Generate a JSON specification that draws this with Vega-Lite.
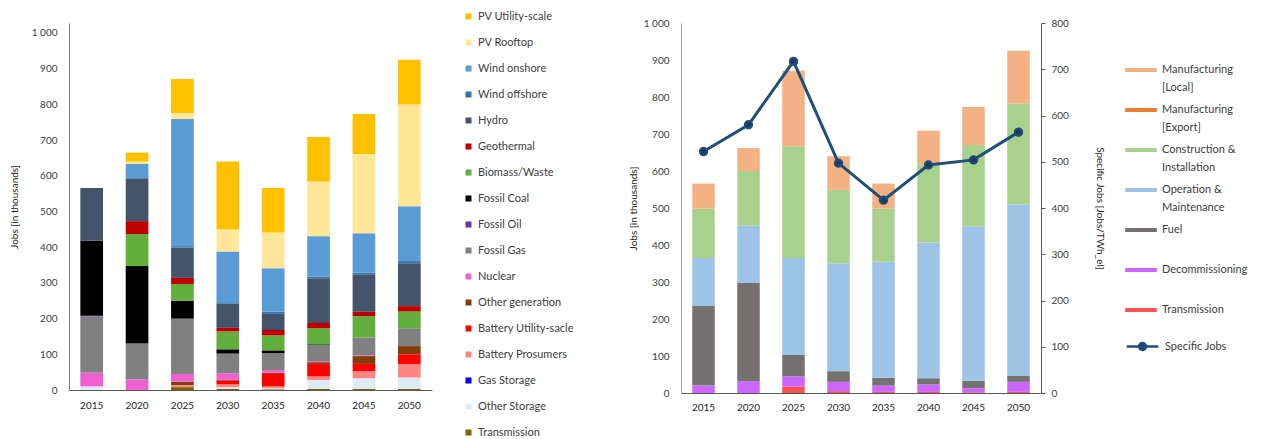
{
  "$schema": "https://vega.github.io/schema/vega-lite/v6.json",
  "background": "white",
  "padding": {"left": 9, "top": 10, "right": 0, "bottom": 0},
  "bounds": "flush",
  "spacing": 249,
  "config": {
    "font": "Lato",
    "view": {"stroke": null},
    "axis": {"labelFont": "Lato", "labelFontSize": 10, "labelColor": "#404040", "titleFont": "Lato", "titleFontSize": 10, "titleFontWeight": "normal", "titleColor": "#262626", "grid": false, "ticks": false, "domainColor": "#7f7f7f"},
    "legend": {"labelFont": "Lato", "labelFontSize": 11, "labelColor": "#404040", "padding": 0, "title": null}
  },
  "datasets": {
    "techOrder": [
      {"tech": "PV Utility-scale", "rank": 1},
      {"tech": "PV Rooftop", "rank": 2},
      {"tech": "Wind onshore", "rank": 3},
      {"tech": "Wind offshore", "rank": 4},
      {"tech": "Hydro", "rank": 5},
      {"tech": "Geothermal", "rank": 6},
      {"tech": "Biomass/Waste", "rank": 7},
      {"tech": "Fossil Coal", "rank": 8},
      {"tech": "Fossil Oil", "rank": 9},
      {"tech": "Fossil Gas", "rank": 10},
      {"tech": "Nuclear", "rank": 11},
      {"tech": "Other generation", "rank": 12},
      {"tech": "Battery Utility-sacle", "rank": 13},
      {"tech": "Battery Prosumers", "rank": 14},
      {"tech": "Gas Storage", "rank": 15},
      {"tech": "Other Storage", "rank": 16},
      {"tech": "Transmission", "rank": 17}
    ],
    "actOrder": [
      {"act": "Manufacturing [Local]", "rank": 1},
      {"act": "Manufacturing [Export]", "rank": 2},
      {"act": "Construction & Installation", "rank": 3},
      {"act": "Operation & Maintenance", "rank": 4},
      {"act": "Fuel", "rank": 5},
      {"act": "Decommissioning", "rank": 6},
      {"act": "Transmission", "rank": 7}
    ],
    "tech": [
      {"year": "2015", "tech": "Other Storage", "jobs": 10},
      {"year": "2015", "tech": "Nuclear", "jobs": 38},
      {"year": "2015", "tech": "Fossil Gas", "jobs": 158},
      {"year": "2015", "tech": "Fossil Oil", "jobs": 2},
      {"year": "2015", "tech": "Fossil Coal", "jobs": 210},
      {"year": "2015", "tech": "Hydro", "jobs": 148},
      {"year": "2020", "tech": "Nuclear", "jobs": 30},
      {"year": "2020", "tech": "Fossil Gas", "jobs": 100},
      {"year": "2020", "tech": "Fossil Coal", "jobs": 217},
      {"year": "2020", "tech": "Biomass/Waste", "jobs": 90},
      {"year": "2020", "tech": "Geothermal", "jobs": 36},
      {"year": "2020", "tech": "Hydro", "jobs": 120},
      {"year": "2020", "tech": "Wind onshore", "jobs": 40},
      {"year": "2020", "tech": "PV Rooftop", "jobs": 7},
      {"year": "2020", "tech": "PV Utility-scale", "jobs": 25},
      {"year": "2025", "tech": "Transmission", "jobs": 8},
      {"year": "2025", "tech": "Other generation", "jobs": 10},
      {"year": "2025", "tech": "Battery Prosumers", "jobs": 5},
      {"year": "2025", "tech": "Nuclear", "jobs": 22},
      {"year": "2025", "tech": "Fossil Gas", "jobs": 155},
      {"year": "2025", "tech": "Fossil Coal", "jobs": 50},
      {"year": "2025", "tech": "Biomass/Waste", "jobs": 47},
      {"year": "2025", "tech": "Geothermal", "jobs": 17},
      {"year": "2025", "tech": "Hydro", "jobs": 85},
      {"year": "2025", "tech": "Wind offshore", "jobs": 4},
      {"year": "2025", "tech": "Wind onshore", "jobs": 356},
      {"year": "2025", "tech": "PV Rooftop", "jobs": 17},
      {"year": "2025", "tech": "PV Utility-scale", "jobs": 95},
      {"year": "2030", "tech": "Transmission", "jobs": 3},
      {"year": "2030", "tech": "Other Storage", "jobs": 5},
      {"year": "2030", "tech": "Battery Prosumers", "jobs": 8},
      {"year": "2030", "tech": "Battery Utility-sacle", "jobs": 10},
      {"year": "2030", "tech": "Other generation", "jobs": 3},
      {"year": "2030", "tech": "Nuclear", "jobs": 18},
      {"year": "2030", "tech": "Fossil Gas", "jobs": 55},
      {"year": "2030", "tech": "Fossil Coal", "jobs": 12},
      {"year": "2030", "tech": "Biomass/Waste", "jobs": 50},
      {"year": "2030", "tech": "Geothermal", "jobs": 10},
      {"year": "2030", "tech": "Hydro", "jobs": 68},
      {"year": "2030", "tech": "Wind offshore", "jobs": 4},
      {"year": "2030", "tech": "Wind onshore", "jobs": 142},
      {"year": "2030", "tech": "PV Rooftop", "jobs": 62},
      {"year": "2030", "tech": "PV Utility-scale", "jobs": 190},
      {"year": "2035", "tech": "Transmission", "jobs": 2},
      {"year": "2035", "tech": "Other Storage", "jobs": 3},
      {"year": "2035", "tech": "Battery Prosumers", "jobs": 5},
      {"year": "2035", "tech": "Battery Utility-sacle", "jobs": 35},
      {"year": "2035", "tech": "Other generation", "jobs": 3},
      {"year": "2035", "tech": "Nuclear", "jobs": 8},
      {"year": "2035", "tech": "Fossil Gas", "jobs": 47},
      {"year": "2035", "tech": "Fossil Coal", "jobs": 8},
      {"year": "2035", "tech": "Biomass/Waste", "jobs": 42},
      {"year": "2035", "tech": "Geothermal", "jobs": 15},
      {"year": "2035", "tech": "Hydro", "jobs": 47},
      {"year": "2035", "tech": "Wind offshore", "jobs": 4},
      {"year": "2035", "tech": "Wind onshore", "jobs": 122},
      {"year": "2035", "tech": "PV Rooftop", "jobs": 100},
      {"year": "2035", "tech": "PV Utility-scale", "jobs": 125},
      {"year": "2040", "tech": "Transmission", "jobs": 3},
      {"year": "2040", "tech": "Other Storage", "jobs": 25},
      {"year": "2040", "tech": "Battery Prosumers", "jobs": 10},
      {"year": "2040", "tech": "Battery Utility-sacle", "jobs": 35},
      {"year": "2040", "tech": "Other generation", "jobs": 5},
      {"year": "2040", "tech": "Nuclear", "jobs": 3},
      {"year": "2040", "tech": "Fossil Gas", "jobs": 45},
      {"year": "2040", "tech": "Fossil Coal", "jobs": 2},
      {"year": "2040", "tech": "Biomass/Waste", "jobs": 45},
      {"year": "2040", "tech": "Geothermal", "jobs": 15},
      {"year": "2040", "tech": "Hydro", "jobs": 125},
      {"year": "2040", "tech": "Wind offshore", "jobs": 5},
      {"year": "2040", "tech": "Wind onshore", "jobs": 113},
      {"year": "2040", "tech": "PV Rooftop", "jobs": 153},
      {"year": "2040", "tech": "PV Utility-scale", "jobs": 125},
      {"year": "2045", "tech": "Transmission", "jobs": 3},
      {"year": "2045", "tech": "Other Storage", "jobs": 30},
      {"year": "2045", "tech": "Battery Prosumers", "jobs": 20},
      {"year": "2045", "tech": "Battery Utility-sacle", "jobs": 20},
      {"year": "2045", "tech": "Other generation", "jobs": 22},
      {"year": "2045", "tech": "Nuclear", "jobs": 2},
      {"year": "2045", "tech": "Fossil Gas", "jobs": 50},
      {"year": "2045", "tech": "Biomass/Waste", "jobs": 60},
      {"year": "2045", "tech": "Geothermal", "jobs": 12},
      {"year": "2045", "tech": "Hydro", "jobs": 105},
      {"year": "2045", "tech": "Wind offshore", "jobs": 5},
      {"year": "2045", "tech": "Wind onshore", "jobs": 110},
      {"year": "2045", "tech": "PV Rooftop", "jobs": 222},
      {"year": "2045", "tech": "PV Utility-scale", "jobs": 112},
      {"year": "2050", "tech": "Transmission", "jobs": 3},
      {"year": "2050", "tech": "Other Storage", "jobs": 32},
      {"year": "2050", "tech": "Battery Prosumers", "jobs": 38},
      {"year": "2050", "tech": "Battery Utility-sacle", "jobs": 27},
      {"year": "2050", "tech": "Other generation", "jobs": 23},
      {"year": "2050", "tech": "Fossil Gas", "jobs": 50},
      {"year": "2050", "tech": "Biomass/Waste", "jobs": 47},
      {"year": "2050", "tech": "Geothermal", "jobs": 15},
      {"year": "2050", "tech": "Hydro", "jobs": 120},
      {"year": "2050", "tech": "Wind offshore", "jobs": 6},
      {"year": "2050", "tech": "Wind onshore", "jobs": 154},
      {"year": "2050", "tech": "PV Rooftop", "jobs": 285},
      {"year": "2050", "tech": "PV Utility-scale", "jobs": 125}
    ],
    "act": [
      {"year": "2015", "act": "Decommissioning", "jobs": 20},
      {"year": "2015", "act": "Fuel", "jobs": 215},
      {"year": "2015", "act": "Operation & Maintenance", "jobs": 130},
      {"year": "2015", "act": "Construction & Installation", "jobs": 133},
      {"year": "2015", "act": "Manufacturing [Local]", "jobs": 68},
      {"year": "2020", "act": "Decommissioning", "jobs": 32},
      {"year": "2020", "act": "Fuel", "jobs": 265},
      {"year": "2020", "act": "Operation & Maintenance", "jobs": 155},
      {"year": "2020", "act": "Construction & Installation", "jobs": 148},
      {"year": "2020", "act": "Manufacturing [Local]", "jobs": 62},
      {"year": "2025", "act": "Transmission", "jobs": 17},
      {"year": "2025", "act": "Decommissioning", "jobs": 28},
      {"year": "2025", "act": "Fuel", "jobs": 58},
      {"year": "2025", "act": "Operation & Maintenance", "jobs": 262},
      {"year": "2025", "act": "Construction & Installation", "jobs": 302},
      {"year": "2025", "act": "Manufacturing [Local]", "jobs": 204},
      {"year": "2030", "act": "Transmission", "jobs": 5},
      {"year": "2030", "act": "Decommissioning", "jobs": 25},
      {"year": "2030", "act": "Fuel", "jobs": 29},
      {"year": "2030", "act": "Operation & Maintenance", "jobs": 292},
      {"year": "2030", "act": "Construction & Installation", "jobs": 198},
      {"year": "2030", "act": "Manufacturing [Local]", "jobs": 91},
      {"year": "2035", "act": "Transmission", "jobs": 3},
      {"year": "2035", "act": "Decommissioning", "jobs": 17},
      {"year": "2035", "act": "Fuel", "jobs": 21},
      {"year": "2035", "act": "Operation & Maintenance", "jobs": 314},
      {"year": "2035", "act": "Construction & Installation", "jobs": 143},
      {"year": "2035", "act": "Manufacturing [Local]", "jobs": 68},
      {"year": "2040", "act": "Transmission", "jobs": 3},
      {"year": "2040", "act": "Decommissioning", "jobs": 20},
      {"year": "2040", "act": "Fuel", "jobs": 17},
      {"year": "2040", "act": "Operation & Maintenance", "jobs": 367},
      {"year": "2040", "act": "Construction & Installation", "jobs": 210},
      {"year": "2040", "act": "Manufacturing [Local]", "jobs": 92},
      {"year": "2045", "act": "Transmission", "jobs": 2},
      {"year": "2045", "act": "Decommissioning", "jobs": 11},
      {"year": "2045", "act": "Fuel", "jobs": 20},
      {"year": "2045", "act": "Operation & Maintenance", "jobs": 418},
      {"year": "2045", "act": "Construction & Installation", "jobs": 219},
      {"year": "2045", "act": "Manufacturing [Local]", "jobs": 103},
      {"year": "2050", "act": "Transmission", "jobs": 3},
      {"year": "2050", "act": "Decommissioning", "jobs": 27},
      {"year": "2050", "act": "Fuel", "jobs": 16},
      {"year": "2050", "act": "Operation & Maintenance", "jobs": 464},
      {"year": "2050", "act": "Construction & Installation", "jobs": 272},
      {"year": "2050", "act": "Manufacturing [Local]", "jobs": 143}
    ],
    "spec": [
      {"year": "2015", "specific": 522},
      {"year": "2020", "specific": 580},
      {"year": "2025", "specific": 717},
      {"year": "2030", "specific": 497},
      {"year": "2035", "specific": 417},
      {"year": "2040", "specific": 493},
      {"year": "2045", "specific": 504},
      {"year": "2050", "specific": 564}
    ]
  },
  "hconcat": [
    {
      "width": 363,
      "height": 367,
      "data": {"name": "tech"},
      "transform": [
        {"lookup": "tech", "from": {"data": {"name": "techOrder"}, "key": "tech", "fields": ["rank"]}}
      ],
      "mark": {"type": "bar"},
      "encoding": {
        "x": {"field": "year", "type": "ordinal", "scale": {"paddingInner": 0.5, "paddingOuter": 0.25}, "axis": {"title": null, "labelAngle": 0, "labelPadding": 10, "domainColor": "#595959", "labelColor": "#262626"}},
        "y": {"field": "jobs", "type": "quantitative", "stack": "zero", "scale": {"domain": [0, 1028], "nice": false}, "axis": {"title": "Jobs [in thousands]", "values": [0, 100, 200, 300, 400, 500, 600, 700, 800, 900, 1000], "labelExpr": "replace(datum.label, ',', ' ')", "labelPadding": 12, "titlePadding": 12, "domainColor": "#7f7f7f"}},
        "order": {"field": "rank", "type": "quantitative", "sort": "descending"},
        "color": {
          "field": "tech", "type": "nominal",
          "sort": ["PV Utility-scale", "PV Rooftop", "Wind onshore", "Wind offshore", "Hydro", "Geothermal", "Biomass/Waste", "Fossil Coal", "Fossil Oil", "Fossil Gas", "Nuclear", "Other generation", "Battery Utility-sacle", "Battery Prosumers", "Gas Storage", "Other Storage", "Transmission"],
          "scale": {
            "domain": ["PV Utility-scale", "PV Rooftop", "Wind onshore", "Wind offshore", "Hydro", "Geothermal", "Biomass/Waste", "Fossil Coal", "Fossil Oil", "Fossil Gas", "Nuclear", "Other generation", "Battery Utility-sacle", "Battery Prosumers", "Gas Storage", "Other Storage", "Transmission"],
            "range": ["#FFC000", "#FFE699", "#5B9BD5", "#2E75B6", "#44546A", "#C00000", "#63AE3F", "#000000", "#7030A0", "#808080", "#F060D0", "#843C0C", "#FF0000", "#FF8585", "#0000FF", "#DDEBF7", "#7F6000"]
          },
          "legend": {"orient": "none", "legendX": 394, "legendY": -13, "symbolType": "square", "symbolSize": 36, "symbolStrokeWidth": 0, "clipHeight": 13, "rowPadding": 13, "labelOffset": 4, "labelFontSize": 11}
        }
      }
    },
    {
      "width": 360,
      "height": 370,
      "layer": [
        {
          "data": {"name": "act"},
          "transform": [
            {"lookup": "act", "from": {"data": {"name": "actOrder"}, "key": "act", "fields": ["rank"]}}
          ],
          "mark": {"type": "bar"},
          "encoding": {
            "x": {"field": "year", "type": "ordinal", "scale": {"paddingInner": 0.5, "paddingOuter": 0.25}, "axis": {"title": null, "labelAngle": 0, "labelPadding": 9, "domainColor": "#595959", "labelColor": "#262626"}},
            "y": {"field": "jobs", "type": "quantitative", "stack": "zero", "scale": {"domain": [0, 1000], "nice": false}, "axis": {"title": "Jobs [in thousands]", "values": [0, 100, 200, 300, 400, 500, 600, 700, 800, 900, 1000], "labelExpr": "replace(datum.label, ',', ' ')", "labelPadding": 12, "titlePadding": 5, "domainColor": "#a6a6a6"}},
            "order": {"field": "rank", "type": "quantitative", "sort": "descending"},
            "color": {
              "field": "act", "type": "nominal",
              "sort": ["Manufacturing [Local]", "Manufacturing [Export]", "Construction & Installation", "Operation & Maintenance", "Fuel", "Decommissioning", "Transmission"],
              "scale": {
                "domain": ["Manufacturing [Local]", "Manufacturing [Export]", "Construction & Installation", "Operation & Maintenance", "Fuel", "Decommissioning", "Transmission"],
                "range": ["#F4B183", "#ED7D31", "#A9D18E", "#9DC3E6", "#767171", "#CC66FF", "#FF5050"]
              },
              "legend": {
                "orient": "none", "legendX": 444, "legendY": 38,
                "symbolType": "M-1,-0.12H1V0.12H-1Z", "symbolSize": 1000, "symbolStrokeWidth": 0,
                "clipHeight": 40, "rowPadding": 0, "labelOffset": 5, "labelFontSize": 11,
                "labelExpr": "datum.label == 'Manufacturing [Local]' ? ['Manufacturing', '[Local]'] : datum.label == 'Manufacturing [Export]' ? ['Manufacturing', '[Export]'] : datum.label == 'Construction & Installation' ? ['Construction &', 'Installation'] : datum.label == 'Operation & Maintenance' ? ['Operation &', 'Maintenance'] : datum.label",
                "encode": {
                  "symbols": {"update": {"y": {"value": 9}}},
                  "labels": {"update": {"y": {"value": 3}, "baseline": {"value": "top"}, "lineHeight": {"value": 18}}}
                }
              }
            }
          }
        },
        {
          "data": {"name": "spec"},
          "mark": {"type": "line", "strokeWidth": 3, "point": {"filled": true, "size": 55, "fill": "#1F3864", "stroke": "#1F3864"}},
          "encoding": {
            "x": {"field": "year", "type": "ordinal"},
            "y": {"field": "specific", "type": "quantitative", "scale": {"domain": [0, 800], "nice": false}, "axis": {"orient": "right", "title": "Specific Jobs [Jobs/TWh_el]", "values": [0, 100, 200, 300, 400, 500, 600, 700, 800], "ticks": true, "tickSize": 4, "tickColor": "#595959", "domainColor": "#595959", "labelPadding": 6, "titlePadding": 26}},
            "stroke": {
              "datum": "Specific Jobs", "type": "nominal",
              "scale": {"domain": ["Specific Jobs"], "range": ["#1F4E79"]},
              "legend": {
                "orient": "none", "legendX": 444, "legendY": 306,
                "symbolType": "M-1,0H1M0.22,0A0.22,0.22,0,1,1,-0.22,0A0.22,0.22,0,1,1,0.22,0",
                "symbolSize": 1000, "symbolStrokeWidth": 2.5, "labelOffset": 5, "labelFontSize": 11,
                "encode": {"symbols": {"update": {"fill": {"value": "#1F3864"}, "stroke": {"value": "#1F4E79"}}}}
              }
            }
          }
        }
      ],
      "resolve": {"scale": {"y": "independent"}}
    }
  ],
  "resolve": {"scale": {"color": "independent", "stroke": "independent"}, "legend": {"color": "independent", "stroke": "independent"}}
}
